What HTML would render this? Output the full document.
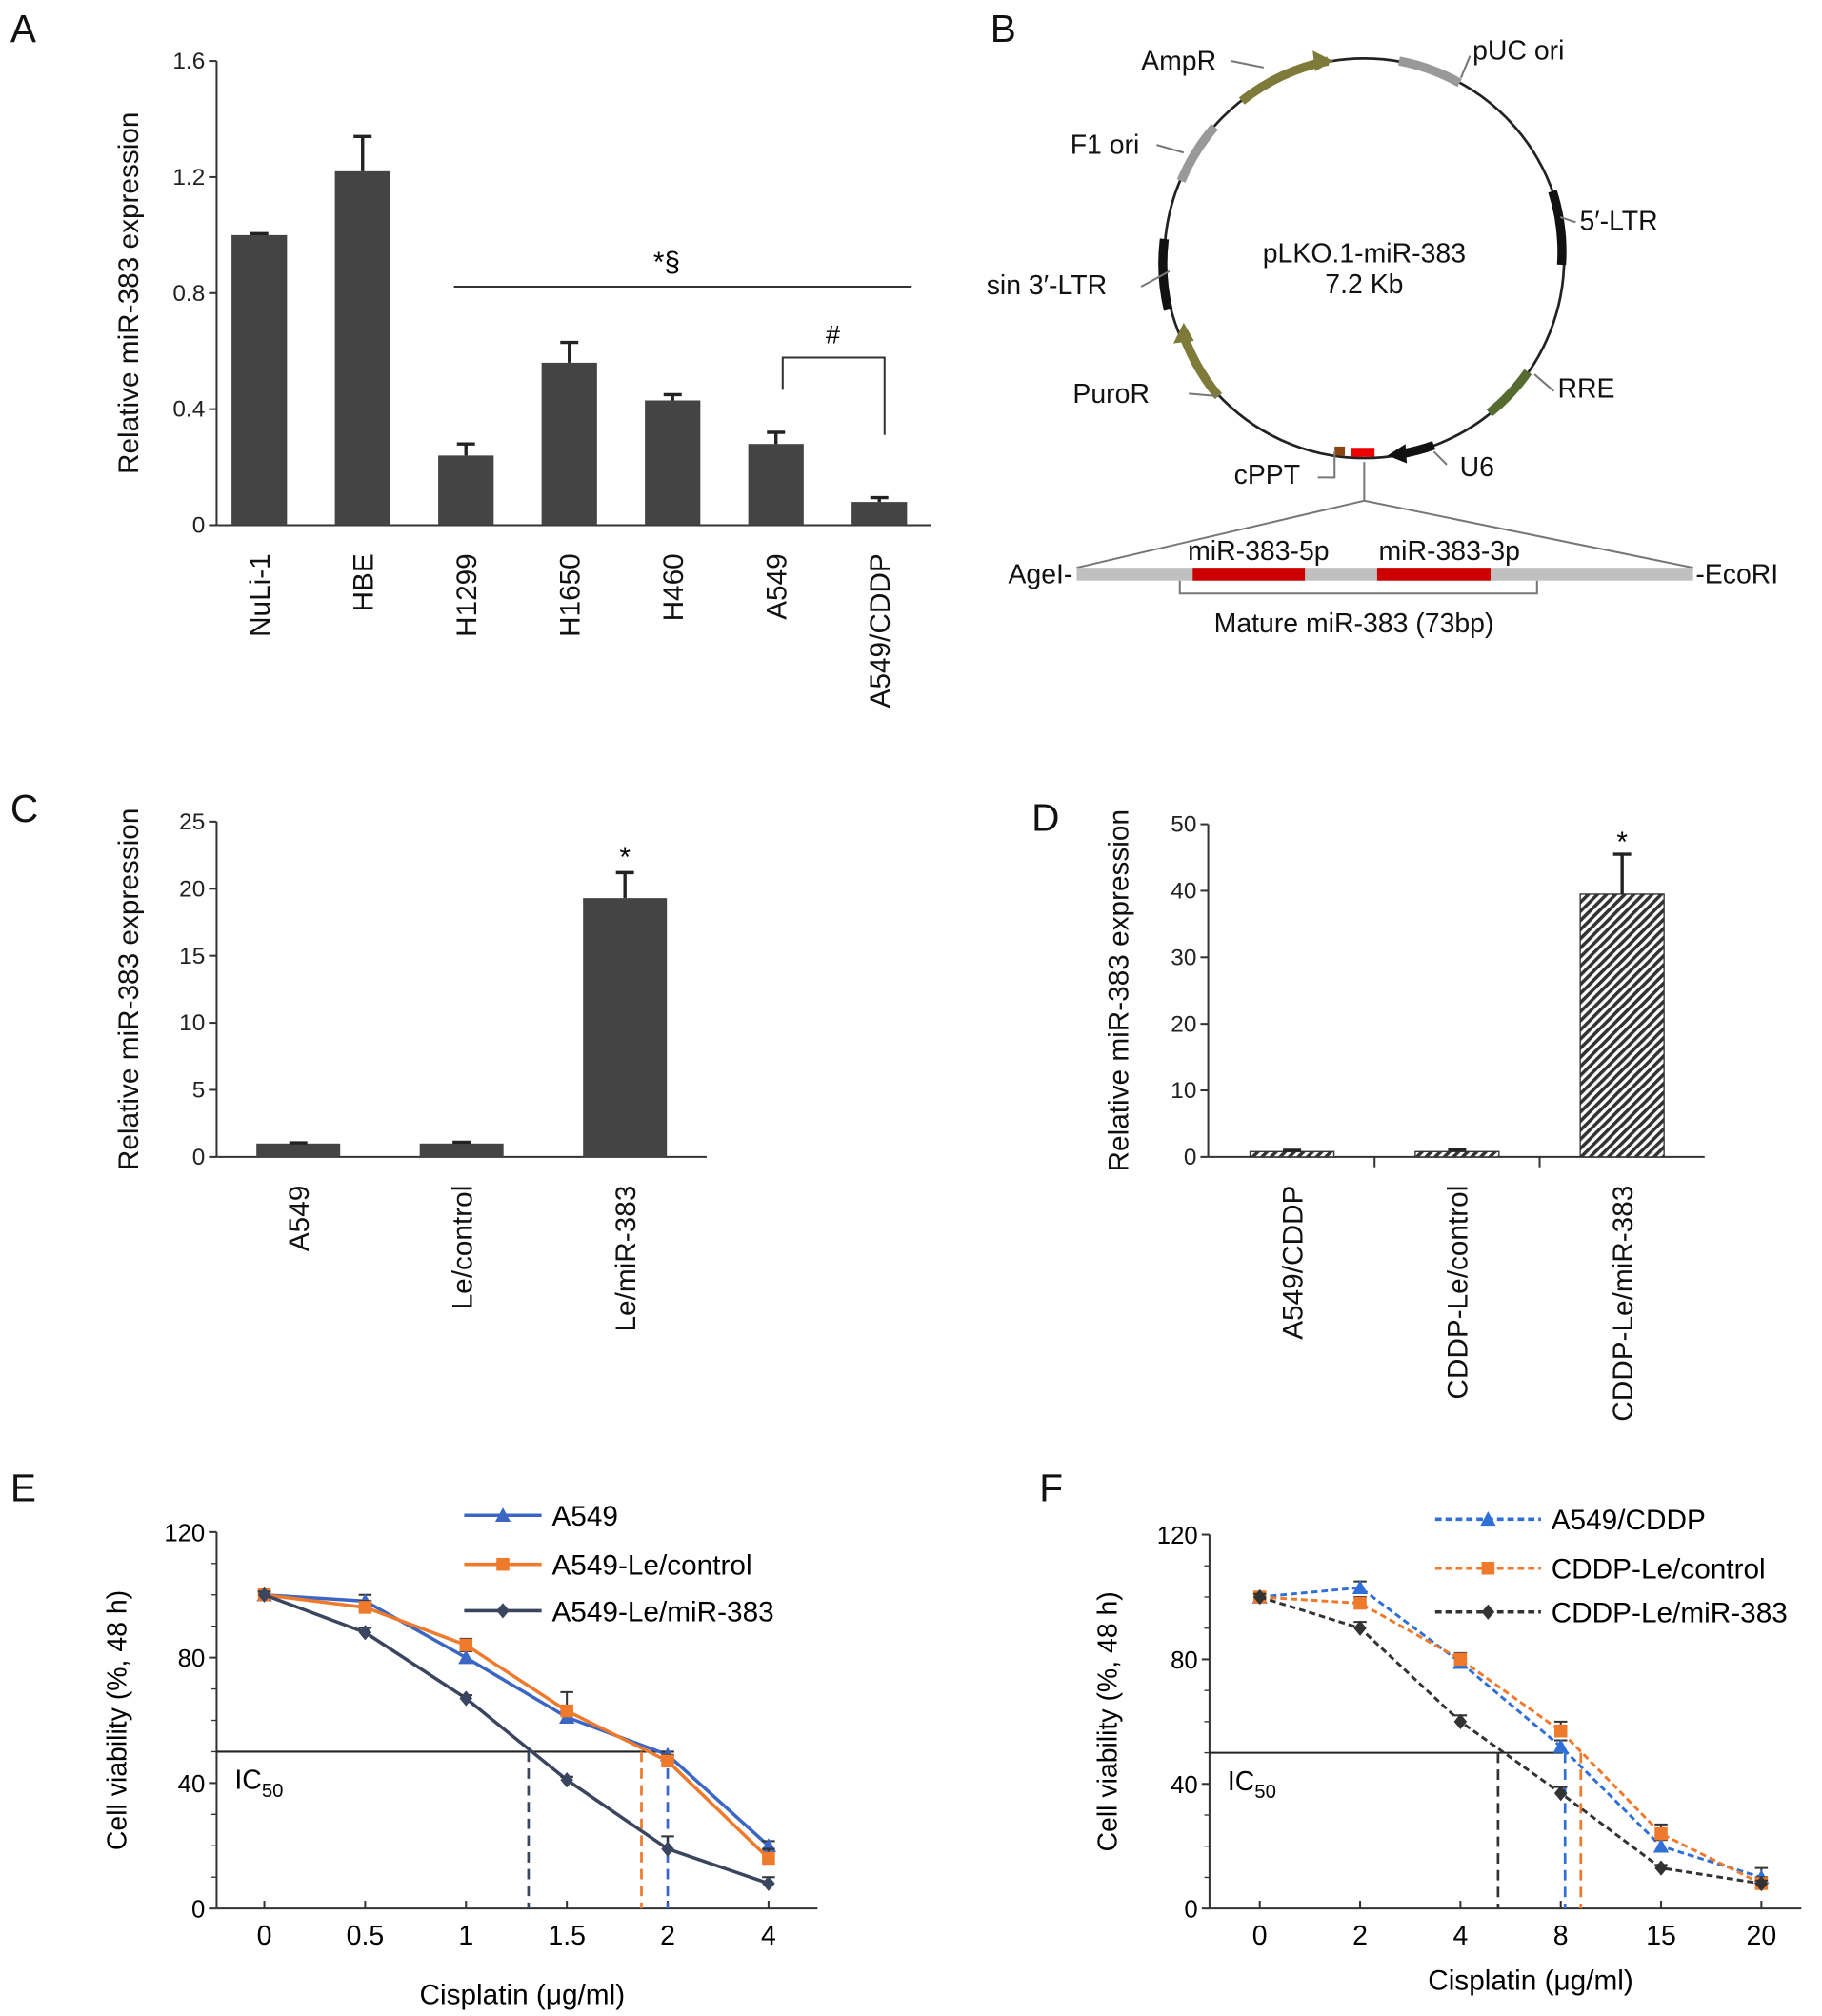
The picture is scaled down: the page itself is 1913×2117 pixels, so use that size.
<!DOCTYPE html>
<html><head><meta charset="utf-8"><style>
html,body{margin:0;padding:0;background:#fff}
svg{display:block;font-family:"Liberation Sans",Arial,sans-serif}
</style></head><body>
<svg id="fig" width="1913" height="2117" viewBox="0 0 1413 1563">
<defs><pattern id="hatch" width="5" height="5" patternUnits="userSpaceOnUse" patternTransform="rotate(45)"><rect width="5" height="5" fill="#fff"/><rect width="2.6" height="5" fill="#333"/></pattern></defs>
<g font-size="30" fill="#111">
<text x="8" y="32">A</text><text x="768" y="32">B</text><text x="8" y="637">C</text><text x="800" y="644">D</text><text x="8" y="1164">E</text><text x="806" y="1164">F</text></g>

<g font-size="21" fill="#111">
<circle cx="1058" cy="200" r="155" fill="none" stroke="#222" stroke-width="2"/>
<path d="M963,78 A155,155 0 0 1 1030,47" fill="none" stroke="#7d7a3a" stroke-width="7"/>
<polygon points="1018,39 1034,47 1020,55" fill="#7d7a3a"/>
<path d="M1085,47 A155,155 0 0 1 1132,64" fill="none" stroke="#999" stroke-width="7"/>
<path d="M916,140 A155,155 0 0 1 942,98" fill="none" stroke="#999" stroke-width="7"/>
<path d="M1204,148 A155,155 0 0 1 1211,205" fill="none" stroke="#111" stroke-width="7"/>
<path d="M906,240 A155,155 0 0 1 903,185" fill="none" stroke="#111" stroke-width="7"/>
<path d="M1185,288 A155,155 0 0 1 1155,320" fill="none" stroke="#556b2f" stroke-width="7"/>
<path d="M945,307 A155,155 0 0 1 918,260" fill="none" stroke="#7d7a3a" stroke-width="7"/>
<polygon points="910,266 918,250 926,264" fill="#7d7a3a"/>
<path d="M1112,345 A155,155 0 0 1 1085,352" fill="none" stroke="#111" stroke-width="7"/>
<polygon points="1090,344 1076,353 1091,359" fill="#111"/>
<rect x="1048" y="347" width="18" height="7" fill="#e00"/>
<rect x="1035" y="346" width="8" height="7" fill="#8b4513"/>
<text x="1058" y="203" text-anchor="middle">pLKO.1-miR-383</text>
<text x="1058" y="227" text-anchor="middle">7.2 Kb</text>
<text x="885" y="54">AmpR</text><text x="1142" y="46">pUC ori</text>
<text x="830" y="119">F1 ori</text><text x="1225" y="178">5′-LTR</text>
<text x="765" y="228">sin 3′-LTR</text><text x="1208" y="308">RRE</text>
<text x="832" y="312">PuroR</text><text x="1132" y="369">U6</text><text x="957" y="375">cPPT</text>
<path d="M1058,358 V388 M835,440 L1058,388 L1313,440 M915,450 V460 H1192 V450 M1035,350 V370 L1022,370 M1112,350 L1122,360 M1190,290 L1205,303 M945,307 L922,305 M907,210 L885,222 M1210,168 L1222,172 M1133,60 L1140,43 M980,52 L955,47 M918,118 L897,112" fill="none" stroke="#777" stroke-width="1.5"/>
<rect x="835" y="440" width="478" height="10" fill="#c0c0c0"/>
<rect x="925" y="440" width="87" height="10" fill="#c00"/>
<rect x="1068" y="440" width="88" height="10" fill="#c00"/>
<text x="832" y="452" text-anchor="end">AgeI-</text><text x="1315" y="452">-EcoRI</text>
<text x="976" y="434" text-anchor="middle">miR-383-5p</text><text x="1124" y="434" text-anchor="middle">miR-383-3p</text>
<text x="1050" y="490" text-anchor="middle">Mature miR-383 (73bp)</text>
</g>

<g id="charts"></g>
</svg>
<script>
const catsA=["NuLi-1","HBE","H1299","H1650","H460","A549","A549/CDDP"];
const valsA=[1.0,1.22,0.24,0.56,0.43,0.28,0.08];
const errA=[0.005,0.12,0.04,0.07,0.02,0.04,0.015];
const ticksA=[0,0.4,0.8,1.2,1.6];
const catsC=["A549","Le/control","Le/miR-383"];
const valsC=[1,1,19.3];
const errC=[0.05,0.1,1.9];
const ticksC=[0,5,10,15,20,25];
const catsD=["A549/CDDP","CDDP-Le/control","CDDP-Le/miR-383"];
const valsD=[0.8,0.8,39.5];
const errD=[0.2,0.3,6];
const ticksD=[0,10,20,30,40,50];
const catsE=["0","0.5","1","1.5","2","4"];
const eA549=[100,98,80,61,49,20];
const eCtrl=[100,96,84,63,47,16];
const eMiR=[100,88,67,41,19,8];
const eErrA=[1,2,2,2,1,1.5];
const eErrC=[1,2,2,6,2,3];
const eErrM=[1,1.5,1,1,4,2];
const icE=[2.0,1.87,1.31];
const catsF=["0","2","4","8","15","20"];
const fCDDP=[100,103,79,52,20,10];
const fCtrl=[100,98,80,57,24,8];
const fMiR=[100,90,60,37,13,8];
const fErrA=[1,2,1,2,2,3];
const fErrC=[1,2,2,3,3,2];
const fErrM=[1,2,2,2,1,1];
const icF=[8.3,9.4,5.5];
const ticksEF=[0,40,80,120];

const NS="http://www.w3.org/2000/svg";
const root=document.getElementById('charts');
function mk(tag,attrs,parent,txt){const e=document.createElementNS(NS,tag);for(const k in attrs)e.setAttribute(k,attrs[k]);if(txt!=null)e.textContent=txt;(parent||root).appendChild(e);return e;}
function grp(name){const g=mk('g',{});


return g;}

function barChart(o){
 const g=grp(o.name);
 const y=v=>o.y0-(v/o.max)*(o.y0-o.y1);
 const step=(o.xEnd-o.xStart)/o.cats.length;
 const x=i=>o.xStart+step*(i+0.5);
 mk('line',{x1:o.x0,y1:o.y1,x2:o.x0,y2:o.y0,stroke:'#333','stroke-width':1.5},g);
 mk('line',{x1:o.x0,y1:o.y0,x2:o.xEnd,y2:o.y0,stroke:'#333','stroke-width':1.5},g);
 o.ticks.forEach(t=>{mk('line',{x1:o.x0-6,x2:o.x0,y1:y(t),y2:y(t),stroke:'#333','stroke-width':1.5},g);
  const tl=mk('text',{x:o.x0-9,y:y(t)+6,'text-anchor':'end','font-size':18,fill:'#222'},g,o.fmt?o.fmt(t):t);
  
  });
 if(o.divs){for(let i=1;i<o.cats.length;i++){mk('line',{x1:o.xStart+step*i,x2:o.xStart+step*i,y1:o.y0,y2:o.y0+8,stroke:'#333','stroke-width':1.5},g);}}
 o.cats.forEach((c,i)=>{
  const b=mk('rect',{x:x(i)-o.bw/2,y:y(o.vals[i]),width:o.bw,height:o.y0-y(o.vals[i]),fill:o.fill,stroke:o.stroke||'none','stroke-width':1},g);
  
  
  const top=y(o.vals[i]+o.errs[i]);
  mk('path',{d:`M${x(i)},${y(o.vals[i])}V${top}M${x(i)-7},${top}H${x(i)+7}`,stroke:'#222','stroke-width':2.5,fill:'none'},g);
  const lb=mk('text',{transform:`translate(${x(i)+8},${o.y0+22}) rotate(-90)`,'text-anchor':'end','font-size':22,fill:'#111'},g,c);
  
  
 });
 const t=mk('text',{transform:`translate(${o.titleX},${(o.y0+o.y1)/2}) rotate(-90)`,'text-anchor':'middle','font-size':22,fill:'#111'},g,'Relative miR-383 expression');
 
 
 return {g,x,y};
}

const A=barChart({name:'chart-a',cats:catsA,vals:valsA,errs:errA,ticks:ticksA,max:1.6,x0:168,xStart:161,xEnd:722,y0:407,y1:47,bw:43,fill:'#444',titleX:107,fmt:t=>t===0?'0':t.toFixed(1)});
mk('line',{x1:352,x2:707,y1:222,y2:222,stroke:'#333','stroke-width':1.5},A.g);
mk('text',{x:517,y:210,'text-anchor':'middle','font-size':22},A.g,'*§');
mk('path',{d:`M607,302V277H686V337`,fill:'none',stroke:'#333','stroke-width':1.5},A.g);
mk('text',{x:646,y:266,'text-anchor':'middle','font-size':20},A.g,'#');
const C=barChart({name:'chart-c',cats:catsC,vals:valsC,errs:errC,ticks:ticksC,max:25,x0:168,xStart:168,xEnd:548,y0:897,y1:637,bw:65,fill:'#444',titleX:107});
mk('text',{x:C.x(2),y:672,'text-anchor':'middle','font-size':22},C.g,'*');
const D=barChart({name:'chart-d',cats:catsD,vals:valsD,errs:errD,ticks:ticksD,max:50,x0:937,xStart:938,xEnd:1322,y0:897,y1:639,bw:65,fill:'url(#hatch)',stroke:'#333',titleX:875,divs:true});
mk('text',{x:D.x(2),y:660,'text-anchor':'middle','font-size':22},D.g,'*');

function lineChart(o){
 const g=grp(o.name);
 const y=v=>o.y0-(v/120)*(o.y0-o.y1);
 const x=i=>o.xs0+i*o.dx;
 const xf=v=>{let i=0;while(i<o.numCats.length-2&&v>o.numCats[i+1])i++;const a=o.numCats[i],b=o.numCats[i+1];return x(i)+(v-a)/(b-a)*o.dx;};
 mk('line',{x1:o.x0,y1:o.y1,x2:o.x0,y2:o.y0,stroke:'#333','stroke-width':1.5},g);
 mk('line',{x1:o.x0,y1:o.y0,x2:o.xEnd,y2:o.y0,stroke:'#333','stroke-width':1.5},g);
 ticksEF.forEach(t=>{mk('line',{x1:o.x0-6,x2:o.x0,y1:y(t),y2:y(t),stroke:'#333','stroke-width':1.5},g);
  const tl=mk('text',{x:o.x0-9,y:y(t)+7,'text-anchor':'end','font-size':19},g,t);
  
  
  for(let k=1;k<4&&t<120;k++){const yy=y(t+k*10);mk('line',{x1:o.x0-4,x2:o.x0,y1:yy,y2:yy,stroke:'#333','stroke-width':1},g);}});
 o.cats.forEach((c,i)=>{mk('line',{x1:x(i),x2:x(i),y1:o.y0,y2:o.y0-6,stroke:'#333','stroke-width':1.5},g);
  const tl=mk('text',{x:x(i),y:o.y0+28,'text-anchor':'middle','font-size':21},g,c);
  
  });
 const icx=Math.min(...o.ic.map(xf).filter(v=>v>o.x0+200));
 mk('line',{x1:o.x0,x2:o.icEnd,y1:y(50),y2:y(50),stroke:'#222','stroke-width':1.5},g);
 const ic=mk('text',{x:o.x0+14,y:y(50)+29,'font-size':21},g);
 mk('tspan',{},ic,'IC');mk('tspan',{dy:6,'font-size':15},ic,'50');
 o.series.forEach((s,si)=>{
  const vx=xf(o.ic[si]);
  mk('line',{x1:vx,x2:vx,y1:y(50),y2:o.y0,stroke:s.color,'stroke-width':2,'stroke-dasharray':'8,5'},g);
 });
 o.series.forEach((s,si)=>{
  const sg=mk('g',{},g);
  
  
  const pts=s.vals.map((v,i)=>`${x(i)},${y(v)}`).join(' ');
  mk('polyline',{points:pts,fill:'none',stroke:s.color,'stroke-width':s.dash?2.2:2.6,'stroke-dasharray':s.dash?'5,3':'none'},sg);
  s.vals.forEach((v,i)=>{const t=y(v+s.err[i]);
   mk('path',{d:`M${x(i)},${y(v)}V${t}M${x(i)-5},${t}H${x(i)+5}`,stroke:'#333','stroke-width':1.5,fill:'none'},sg);
   marker(sg,x(i),y(v),s.m,s.color);});
  const ly=o.legY[si];
  mk('line',{x1:o.legX,x2:o.legX+o.legW,y1:ly,y2:ly,stroke:s.color,'stroke-width':2.6,'stroke-dasharray':s.dash?'5,3':'none'},g);
  marker(g,o.legX+o.legW/2,ly,s.m,s.color);
  const lt=mk('text',{x:o.legX+o.legW+8,y:ly+8,'font-size':22},g,s.label);
  
  
 });
 const xt=mk('text',{x:o.xtX,y:o.xtY,'text-anchor':'middle','font-size':22},g,'Cisplatin (μg/ml)');
 
 
 const yt=mk('text',{transform:`translate(${o.ytX},${(o.y0+o.y1)/2}) rotate(-90)`,'text-anchor':'middle','font-size':21},g,'Cell viability (%, 48 h)');
 
 
}
function marker(g,cx,cy,m,c){
 if(m==='tri')mk('polygon',{points:`${cx},${cy-6} ${cx+6},${cy+5} ${cx-6},${cy+5}`,fill:c},g);
 else if(m==='sq')mk('rect',{x:cx-5,y:cy-5,width:10,height:10,fill:c},g);
 else mk('polygon',{points:`${cx},${cy-6} ${cx+5},${cy} ${cx},${cy+6} ${cx-5},${cy}`,fill:c},g);
}
lineChart({name:'chart-e',cats:catsE,numCats:[0,0.5,1,1.5,2,4],x0:168,xEnd:634,xs0:205,dx:78.2,y0:1480,y1:1188,ic:icE,icEnd:518,
 series:[{label:'A549',vals:eA549,err:eErrA,color:'#3b66c4',m:'tri'},{label:'A549-Le/control',vals:eCtrl,err:eErrC,color:'#ef7a2c',m:'sq'},{label:'A549-Le/miR-383',vals:eMiR,err:eErrM,color:'#3a4560',m:'dia'}],
 legX:360,legW:60,legY:[1175,1213,1249],xtX:405,xtY:1554,ytX:98});
lineChart({name:'chart-f',cats:catsF,numCats:[0,2,4,8,15,20],x0:938,xEnd:1397,xs0:977,dx:77.8,y0:1480,y1:1190,ic:icF,icEnd:1212,
 series:[{label:'A549/CDDP',vals:fCDDP,err:fErrA,color:'#2f6fd6',m:'tri',dash:true},{label:'CDDP-Le/control',vals:fCtrl,err:fErrC,color:'#ef7a2c',m:'sq',dash:true},{label:'CDDP-Le/miR-383',vals:fMiR,err:fErrM,color:'#333',m:'dia',dash:true}],
 legX:1113,legW:82,legY:[1178,1216,1250],xtX:1187,xtY:1543,ytX:866});
</script>
</body></html>
